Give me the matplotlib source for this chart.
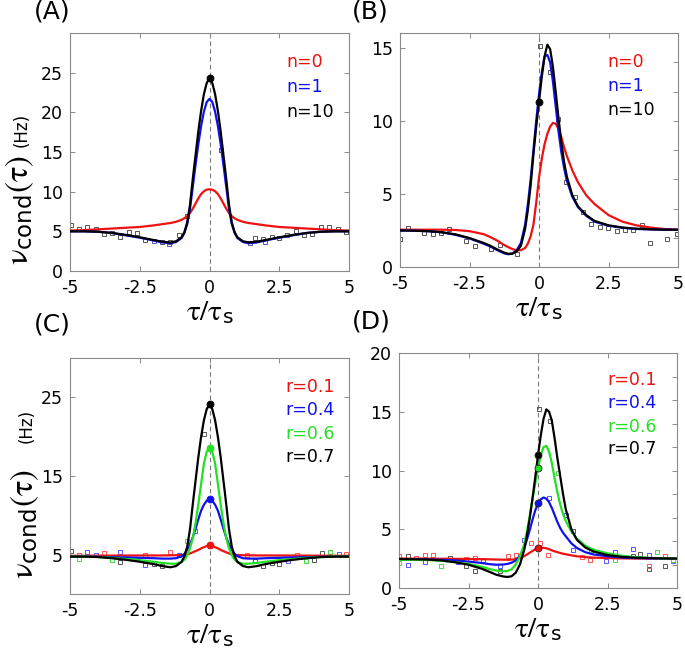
import matplotlib
matplotlib.use('Agg')
import matplotlib.pyplot as plt

plt.rcParams['font.family'] = ['DejaVu Sans']
plt.rcParams['mathtext.fontset'] = 'custom'
plt.rcParams['mathtext.rm'] = 'STIXGeneral'
plt.rcParams['mathtext.it'] = 'STIXGeneral'
plt.rcParams['mathtext.sf'] = 'DejaVu Sans'
plt.rcParams['mathtext.default'] = 'rm'
plt.rcParams['axes.unicode_minus'] = False

# ---------------- data ----------------
tau_sym = [-5, -4.5, -4, -3.5, -3, -2.5, -2, -1.7, -1.4, -1.2, -1.0, -0.9, -0.8, -0.7, -0.6,
           -0.5, -0.4, -0.3, -0.2, -0.1, 0, 0.1, 0.2, 0.3, 0.4, 0.5, 0.6, 0.7, 0.8, 0.9,
           1.0, 1.2, 1.4, 1.7, 2, 2.5, 3, 3.5, 4, 4.5, 5]
tau_asym = [-5, -4.5, -4, -3.5, -3, -2.5, -2, -1.75, -1.5, -1.25, -1.1, -0.95, -0.8, -0.65,
            -0.5, -0.4, -0.3, -0.2, -0.1, 0, 0.1, 0.2, 0.3, 0.4, 0.5, 0.6, 0.7, 0.8, 0.9,
            1.0, 1.2, 1.4, 1.7, 2.0, 2.5, 3.0, 3.5, 4.0, 4.5, 5.0]

# Panel A
A_n10 = [5.0, 5.0, 4.95, 4.8, 4.55, 4.25, 3.9, 3.7, 3.6, 3.75, 4.25, 4.9, 6.1, 8.3, 11.6,
         14.6, 17.6, 20.2, 22.3, 23.7, 24.3, 23.7, 22.3, 20.2, 17.6, 14.6, 11.6, 8.3, 6.1, 4.9,
         4.25, 3.75, 3.6, 3.7, 3.9, 4.25, 4.55, 4.8, 4.95, 5.0, 5.0]
A_n1 = [5.0, 5.0, 4.95, 4.8, 4.5, 4.2, 3.85, 3.6, 3.5, 3.65, 4.15, 4.8, 5.9, 7.8, 10.6,
        13.4, 16.0, 18.3, 20.1, 21.3, 21.7, 21.3, 20.1, 18.3, 16.0, 13.4, 10.6, 7.8, 5.9, 4.8,
        4.15, 3.65, 3.5, 3.6, 3.85, 4.2, 4.5, 4.8, 4.95, 5.0, 5.0]
A_n0 = [5.1, 5.15, 5.25, 5.35, 5.45, 5.55, 5.75, 5.9, 6.05, 6.2, 6.45, 6.65, 6.9, 7.3, 7.85,
        8.5, 9.15, 9.7, 10.05, 10.25, 10.3, 10.25, 10.05, 9.7, 9.15, 8.5, 7.85, 7.3, 6.9, 6.65,
        6.45, 6.2, 6.05, 5.9, 5.75, 5.55, 5.45, 5.35, 5.25, 5.15, 5.1]
A_sq_x = [-4.98, -4.68, -4.38, -4.08, -3.79, -3.49, -3.19, -2.89, -2.6, -2.3, -1.7, -1.4, -1.1,
          -0.81, 0.42, 1.63, 1.93, 2.23, 2.5, 2.79, 3.1, 3.38, 3.69, 3.99, 4.29, 4.6, 4.9]
A_sq_y = [5.8, 5.25, 5.5, 5.25, 4.66, 4.75, 4.24, 4.96, 4.75, 3.9, 3.7, 3.7, 4.6,
          6.95, 15.3, 4.1, 4.0, 4.24, 4.1, 4.5, 5.1, 4.5, 4.66, 5.5, 5.6, 5.3, 4.9]
A_sqb_x = [-2.0, -1.45, 1.45, 2.0]
A_sqb_y = [3.75, 3.45, 3.5, 3.7]
A_dot = 24.3

# Panel B
B_n10 = [2.5, 2.48, 2.45, 2.38, 2.23, 1.98, 1.65, 1.45, 1.2, 0.98, 0.9, 0.92, 1.08, 1.45,
         2.6, 3.9, 5.6, 7.7, 9.6, 11.3, 13.0, 14.4, 15.2, 14.9, 13.7, 12.0, 10.2, 8.6, 7.2,
         6.2, 4.9, 4.15, 3.55, 3.15, 2.85, 2.7, 2.62, 2.58, 2.55, 2.55]
B_n1 = [2.5, 2.48, 2.45, 2.37, 2.2, 1.95, 1.6, 1.4, 1.15, 0.93, 0.87, 0.92, 1.15, 1.65,
        2.9, 4.3, 6.0, 8.0, 10.0, 11.8, 13.3, 14.4, 14.5, 14.0, 12.7, 11.0, 9.3, 7.9, 6.8,
        5.9, 4.8, 4.1, 3.5, 3.1, 2.82, 2.68, 2.6, 2.57, 2.55, 2.55]
B_n0 = [2.55, 2.55, 2.55, 2.55, 2.53, 2.45, 2.25, 2.05, 1.8, 1.5, 1.35, 1.22, 1.15, 1.15,
        1.3, 1.6, 2.1, 2.9, 4.4, 6.1, 7.4, 8.4, 9.1, 9.6, 9.85, 9.8, 9.45, 8.9, 8.2,
        7.6, 6.6, 5.8, 4.9, 4.3, 3.55, 3.1, 2.85, 2.7, 2.6, 2.55]
B_sq_x = [-5.0, -4.72, -4.12, -3.82, -3.52, -3.22, -2.62, -2.32, -1.72, -1.42, -0.8, 0.05,
          0.38, 0.68, 0.98, 1.28, 1.58, 1.88, 2.18, 2.48, 2.79, 3.09, 3.39, 3.69, 3.99, 4.59, 4.95]
B_sq_y = [1.93, 2.66, 2.32, 2.27, 2.32, 2.6, 1.8, 1.41, 1.25, 1.49, 0.92, 15.1,
          13.3, 10.1, 5.8, 4.8, 3.73, 2.95, 2.73, 2.66, 2.43, 2.5, 2.5, 2.89, 1.64, 1.93, 2.27]
B_dot = 11.3

# Panel C
C_r07 = [4.75, 4.75, 4.7, 4.55, 4.35, 4.1, 3.8, 3.55, 3.4, 3.55, 4.1, 4.8, 6.0, 8.2, 11.4,
         14.4, 17.4, 20.0, 22.1, 23.5, 24.1, 23.5, 22.1, 20.0, 17.4, 14.4, 11.4, 8.2, 6.0, 4.8,
         4.1, 3.55, 3.4, 3.55, 3.8, 4.1, 4.35, 4.55, 4.7, 4.75, 4.75]
C_r06 = [4.75, 4.75, 4.7, 4.6, 4.45, 4.3, 4.1, 3.95, 3.85, 3.85, 4.05, 4.35, 4.9, 5.8, 7.1,
         9.0, 11.4, 14.0, 16.6, 18.1, 18.6, 18.1, 16.6, 14.0, 11.4, 9.0, 7.1, 5.8, 4.9, 4.35,
         4.05, 3.85, 3.85, 3.95, 4.1, 4.3, 4.45, 4.6, 4.7, 4.75, 4.75]
C_r04 = [4.75, 4.75, 4.72, 4.68, 4.65, 4.6, 4.55, 4.5, 4.5, 4.55, 4.8, 5.1, 5.6, 6.3, 7.2,
         8.3, 9.5, 10.6, 11.35, 11.85, 12.05, 11.85, 11.35, 10.6, 9.5, 8.3, 7.2, 6.3, 5.6, 5.1,
         4.8, 4.55, 4.5, 4.5, 4.55, 4.6, 4.65, 4.68, 4.72, 4.75, 4.75]
C_r01 = [4.85, 4.86, 4.87, 4.88, 4.89, 4.9, 4.9, 4.9, 4.92, 4.93, 4.95, 5.0, 5.05, 5.15, 5.3,
         5.45, 5.6, 5.8, 5.95, 6.1, 6.2, 6.1, 5.95, 5.8, 5.6, 5.45, 5.3, 5.15, 5.05, 5.0,
         4.95, 4.93, 4.92, 4.9, 4.9, 4.9, 4.89, 4.88, 4.87, 4.86, 4.85]
C_sq_k_x = [-4.98, -3.19, -2.0, -1.7, -0.21, 1.63, 1.93, 2.23, 2.5, 3.74, 4.05]
C_sq_k_y = [5.5, 4.07, 3.8, 3.6, 20.3, 4.2, 3.5, 3.9, 3.8, 4.36, 5.2]
C_sq_r_x = [-4.68, -3.79, -2.3, -1.4, 1.33, 3.12, 4.9]
C_sq_r_y = [5.0, 5.2, 5.0, 5.3, 5.0, 5.0, 5.1]
C_sq_b_x = [-4.38, -4.08, -3.19, -2.3, -1.1, -0.51, 2.82, 4.63]
C_sq_b_y = [5.3, 5.0, 5.3, 3.64, 5.0, 8.0, 4.2, 5.1]
C_sq_g_x = [-4.68, -3.49, -0.81, 3.45, 4.33]
C_sq_g_y = [4.5, 4.36, 6.7, 4.2, 5.3]
C_dots = [6.2, 12.05, 18.6, 24.1]

# Panel D
D_r07 = [2.47, 2.45, 2.42, 2.35, 2.2, 1.98, 1.62, 1.38, 1.13, 0.98, 0.94, 1.0, 1.3, 2.0,
         3.2, 4.4, 5.9, 7.6, 9.4, 11.3, 13.0, 14.4, 15.2, 15.0, 14.2, 12.7, 11.0, 9.5, 8.0,
         6.7, 5.0, 4.1, 3.45, 3.1, 2.8, 2.65, 2.58, 2.55, 2.52, 2.5]
D_r06 = [2.4, 2.4, 2.38, 2.32, 2.2, 2.05, 1.8, 1.62, 1.48, 1.42, 1.45, 1.6, 2.0, 2.7,
         3.7, 4.8, 6.1, 7.5, 8.9, 10.2, 11.3, 12.0, 12.1, 11.6, 10.6, 9.3, 8.1, 7.1, 6.3,
         5.7, 4.8, 4.2, 3.6, 3.25, 2.95, 2.75, 2.63, 2.56, 2.52, 2.5]
D_r04 = [2.45, 2.45, 2.43, 2.4, 2.35, 2.25, 2.12, 2.03, 1.98, 2.0, 2.05, 2.15, 2.35, 2.75,
         3.4, 4.1, 4.9, 5.8, 6.6, 7.2, 7.55, 7.7, 7.6, 7.3, 6.8, 6.2, 5.6, 5.1, 4.7,
         4.4, 3.8, 3.4, 3.05, 2.85, 2.7, 2.6, 2.55, 2.52, 2.5, 2.5]
D_r01 = [2.5, 2.5, 2.5, 2.49, 2.48, 2.47, 2.45, 2.44, 2.42, 2.41, 2.4, 2.42, 2.45, 2.55,
         2.7, 2.85, 3.0, 3.15, 3.28, 3.38, 3.42, 3.42, 3.38, 3.3, 3.2, 3.12, 3.05, 2.98, 2.92,
         2.87, 2.78, 2.7, 2.63, 2.58, 2.55, 2.52, 2.51, 2.5, 2.5, 2.5]
D_sq_k_x = [-4.68, -3.18, -2.58, -2.28, -1.38, 0.04, 0.42, 1.26, 3.4, 3.66, 4.0, 4.56]
D_sq_k_y = [2.7, 2.55, 1.84, 1.42, 1.42, 15.2, 14.2, 4.82, 2.7, 2.92, 1.62, 1.84]
D_sq_r_x = [-5.0, -4.38, -4.08, -3.78, -2.58, -2.28, -1.08, -0.78, -0.24, 0.06, 0.36, 1.6, 1.86, 4.0, 4.56]
D_sq_r_y = [2.7, 2.55, 2.84, 2.78, 2.47, 2.55, 2.7, 2.84, 3.83, 3.83, 2.84, 2.64, 2.41, 1.84, 2.75]
D_sq_b_x = [-4.68, -4.08, -2.88, -1.98, -1.38, -0.52, 0.4, 1.02, 1.26, 2.46, 2.76, 3.4, 4.0, 4.86]
D_sq_b_y = [2.0, 2.18, 2.18, 2.41, 1.84, 4.1, 7.66, 6.24, 3.26, 2.27, 3.04, 3.32, 2.84, 2.27]
D_sq_g_x = [-5.0, -3.48, 0.72, 1.92, 2.76, 4.29, 4.86]
D_sq_g_y = [2.1, 1.84, 9.8, 3.26, 2.35, 3.04, 2.41]
D_dots = [3.38, 7.2, 10.2, 11.3]

x_ticks = [-5, -2.5, 0, 2.5, 5]
x_ticklabels = ['-5', '-2.5', '0', '2.5', '5']

RED = '#ee1111'
BLUE = '#1111ee'
GREEN = '#22e022'
BLACK = '#000000'
SQ_GRAY = '#555555'

# ---------------- figure ----------------
W, H = 685, 650
fig = plt.figure(figsize=(W / 100, H / 100), dpi=100)


def px_axes(l, t, r, b):
    return fig.add_axes([l / W, 1 - b / H, (r - l) / W, (b - t) / H])


def ftext(x, y, s, **kw):
    return fig.text(x / W, 1 - y / H, s, **kw)


FRAME = '#8a8a8a'


def style(ax, ylim, yticks, right_ticks=None):
    ax.set_xlim(-5, 5)
    ax.set_ylim(*ylim)
    ax.set_xticks(x_ticks)
    ax.set_xticklabels(x_ticklabels)
    ax.set_yticks(yticks)
    ax.set_yticklabels([str(v) for v in yticks])
    for s in ax.spines.values():
        s.set_color(FRAME)
        s.set_linewidth(0.8)
    ax.tick_params(direction='in', length=3.5, width=0.7, color=FRAME, labelsize=12.5,
                   top=True, right=(right_ticks is None))
    ax.tick_params(axis='x', pad=6)
    ax.tick_params(axis='y', pad=5)
    ax.axvline(0, color='#777777', lw=0.8, ls=(0, (4, 3)), zorder=1)
    if right_ticks is not None:
        ax2 = ax.twinx()
        ax2.set_ylim(*ylim)
        ax2.set_yticks(right_ticks)
        ax2.tick_params(direction='in', length=3.5, width=0.7, color=FRAME,
                        labelright=False)
        for s in ax2.spines.values():
            s.set_visible(False)


def curve(ax, x, y, c, lw=1.6, z=3):
    ax.plot(x, y, color=c, lw=lw, zorder=z, solid_capstyle='round')


def squares(ax, x, y, c):
    ax.plot(x, y, ls='none', marker='s', ms=3.2, mfc='none', mec=c, mew=0.7, zorder=2)


def dot(ax, y, c, ec=None):
    ax.plot([0], [y], ls='none', marker='o', ms=5, mfc=c, mec=ec or c, mew=0.6, zorder=5)


# Panel A
axA = px_axes(70, 33, 349, 271)
style(axA, (0, 30), [0, 5, 10, 15, 20, 25])
squares(axA, A_sq_x, A_sq_y, SQ_GRAY)
squares(axA, A_sqb_x, A_sqb_y, '#5555cc')
curve(axA, tau_sym, A_n0, RED)
curve(axA, tau_sym, A_n1, BLUE)
curve(axA, tau_sym, A_n10, BLACK)
dot(axA, A_dot, BLACK)

# Panel B
axB = px_axes(400, 33, 678, 267)
style(axB, (0, 16), [0, 5, 10, 15], right_ticks=[2, 4, 6, 8, 10, 12, 14])
squares(axB, B_sq_x, B_sq_y, SQ_GRAY)
curve(axB, tau_asym, B_n0, RED)
curve(axB, tau_asym, B_n1, BLUE)
curve(axB, tau_asym, B_n10, BLACK)
dot(axB, B_dot, BLACK)

# Panel C
axC = px_axes(70, 358, 349, 594)
style(axC, (0, 30), [5, 15, 25])
squares(axC, C_sq_k_x, C_sq_k_y, SQ_GRAY)
squares(axC, C_sq_r_x, C_sq_r_y, '#ff5555')
squares(axC, C_sq_b_x, C_sq_b_y, '#5555ff')
squares(axC, C_sq_g_x, C_sq_g_y, '#44dd44')
curve(axC, tau_sym, C_r01, RED)
curve(axC, tau_sym, C_r04, BLUE)
curve(axC, tau_sym, C_r06, GREEN)
curve(axC, tau_sym, C_r07, BLACK)
for yv, c in zip(C_dots, [RED, BLUE, GREEN, BLACK]):
    dot(axC, yv, c)

# Panel D
axD = px_axes(399, 353, 677, 588)
style(axD, (0, 20), [0, 5, 10, 15, 20], right_ticks=[2, 4, 6, 8, 10, 12, 14, 16, 18])
squares(axD, D_sq_k_x, D_sq_k_y, SQ_GRAY)
squares(axD, D_sq_r_x, D_sq_r_y, '#ff5555')
squares(axD, D_sq_b_x, D_sq_b_y, '#5555ff')
squares(axD, D_sq_g_x, D_sq_g_y, '#44dd44')
curve(axD, tau_asym, D_r01, RED)
curve(axD, tau_asym, D_r04, BLUE)
curve(axD, tau_asym, D_r06, GREEN)
curve(axD, tau_asym, D_r07, BLACK)
for yv, c in zip(D_dots, [RED, BLUE, GREEN, BLACK]):
    dot(axD, yv, c, ec='#222222')

# legends (colored text)
LEG = 12.5
for (x0, ys, labels, cols) in [
        (286, [62, 87, 112], ['n=0', 'n=1', 'n=10'], [RED, BLUE, BLACK]),
        (607, [62, 86, 110], ['n=0', 'n=1', 'n=10'], [RED, BLUE, BLACK]),
        (285, [387, 410, 434, 457], ['r=0.1', 'r=0.4', 'r=0.6', 'r=0.7'], [RED, BLUE, GREEN, BLACK]),
        (607, [380, 403, 427, 449], ['r=0.1', 'r=0.4', 'r=0.6', 'r=0.7'], [RED, BLUE, GREEN, BLACK])]:
    for y, s, c in zip(ys, labels, cols):
        ftext(x0, y, s, color=c, fontsize=LEG, ha='left', va='center')

# panel letters
for x, y, s in [(34, 12, '(A)'), (352, 11, '(B)'), (34, 324, '(C)'), (352, 322, '(D)')]:
    ftext(x, y, s, fontsize=18, ha='left', va='center')

# x labels
XL = r'$\tau/\tau_{\mathsf{s}}$'
for (cx, yb) in [(209.5, 271), (539, 267), (209.5, 594), (538, 588)]:
    ftext(cx, yb + 27, XL, fontsize=21, ha='center', va='top')

# y labels
YL = r'$\nu_{\mathsf{cond}}(\tau)$'
for (cx, ybot, hz_bot) in [(20, 265, 147), (25, 579, 443)]:
    ftext(cx, ybot, YL, fontsize=23.5, rotation=90, ha='center', va='bottom')
    ftext(cx + 2, hz_bot, '(Hz)', fontsize=12, rotation=90, ha='center', va='bottom')

fig.savefig('out.png', dpi=100)
